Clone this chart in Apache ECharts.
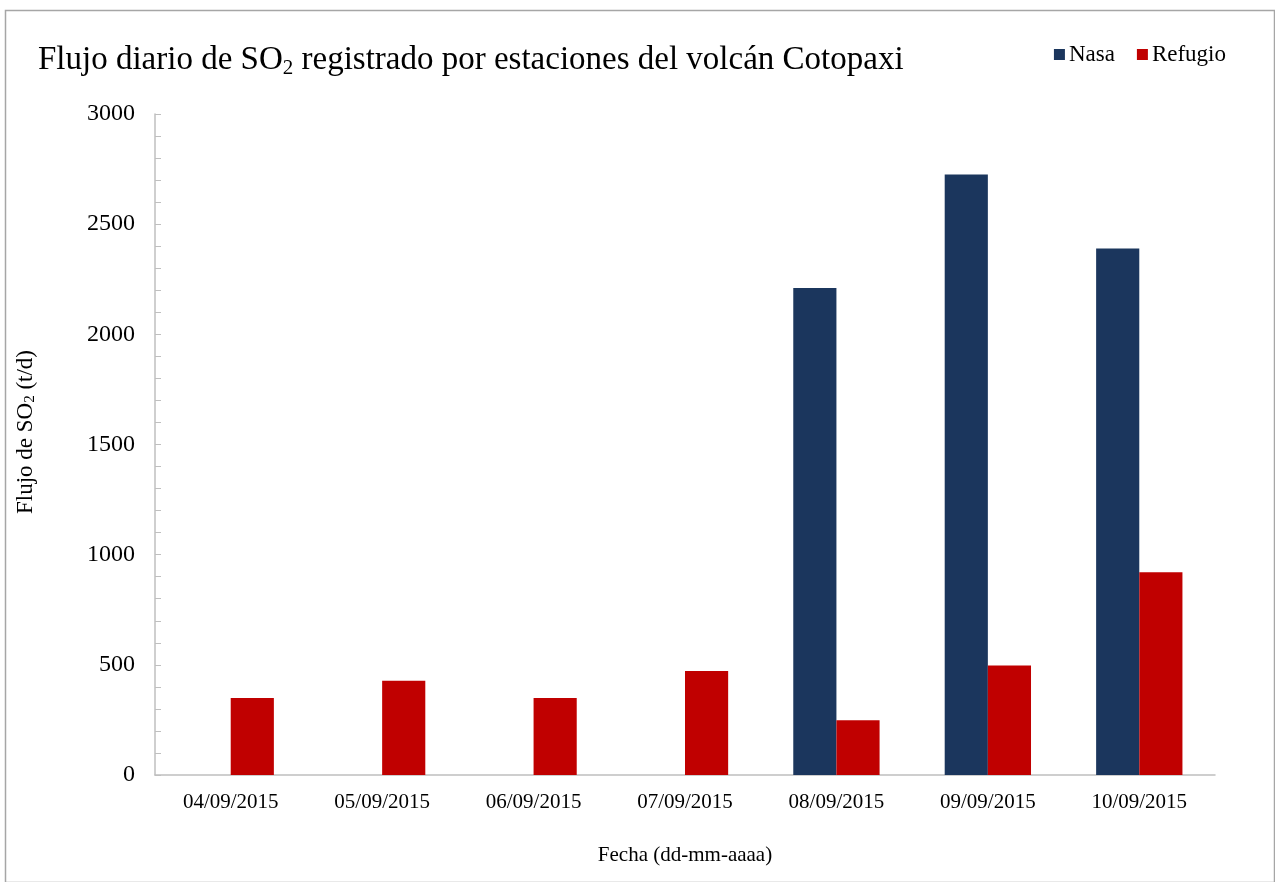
<!DOCTYPE html>
<html><head><meta charset="utf-8">
<script src="https://cdn.jsdelivr.net/npm/echarts@6/dist/echarts.min.js"></script>
<style>html,body{margin:0;padding:0;background:#fff}#c{width:1275px;height:882px}</style>
</head><body><div id="c"></div>
<script>
const categories = ['04/09/2015','05/09/2015','06/09/2015','07/09/2015','08/09/2015','09/09/2015','10/09/2015'];
const nasa = [null, null, null, null, 2210, 2725, 2390];
const refugio = [350, 428, 350, 472, 248, 497, 920];
const yTicks = {min: 0, max: 3000, interval: 500};

const serif = '"Liberation Serif", "DejaVu Serif", serif';
const chart = echarts.init(document.getElementById('c'));
chart.setOption({
  animation: false,
  backgroundColor: '#fff',
  textStyle: {fontFamily: serif},
  graphic: [{
    type: 'rect', left: 3, top: 8, shape: {width: 1269, height: 872},
    style: {fill: 'none', stroke: '#a6a6a6', lineWidth: 1.5}, silent: true
  }],
  title: {
    left: 33, top: 37,
    text: '{a|Flujo diario de SO}{s|2}{a| registrado por estaciones del volcán Cotopaxi}',
    textStyle: {
      rich: {
        a: {fontFamily: serif, fontSize: 33, fontWeight: 'normal', color: '#000'},
        s: {fontFamily: serif, fontSize: 21, fontWeight: 'normal', color: '#000', padding: [16, 0, 0, 0]}
      }
    }
  },
  legend: {
    right: 44, top: 38,
    itemWidth: 11, itemHeight: 11, itemGap: 22,
    icon: 'rect',
    textStyle: {fontFamily: serif, fontSize: 23, color: '#000', padding: [0,0,0,-1]},
    data: ['Nasa', 'Refugio']
  },
  grid: {left: 155, right: 60, top: 114, bottom: 107},
  xAxis: {
    type: 'category', data: categories,
    axisLine: {lineStyle: {color: '#bfbfbf', width: 1.5}},
    axisTick: {inside: true, length: 7, lineStyle: {color: '#bfbfbf'}},
    axisLabel: {fontFamily: serif, fontSize: 21, color: '#000', margin: 17},
    name: 'Fecha (dd-mm-aaaa)', nameLocation: 'middle', nameGap: 70,
    nameTextStyle: {fontFamily: serif, fontSize: 21, color: '#000'}
  },
  yAxis: {
    type: 'value', min: yTicks.min, max: yTicks.max, interval: yTicks.interval,
    splitLine: {show: false},
    axisLine: {show: true, lineStyle: {color: '#bfbfbf', width: 1.5}},
    axisTick: {show: true, inside: true, length: 6, lineStyle: {color: '#bfbfbf'}},
    minorTick: {show: true, splitNumber: 5, length: 6, lineStyle: {color: '#bfbfbf'}},
    axisLabel: {fontFamily: serif, fontSize: 24, color: '#000', margin: 20,
      formatter: v => String(v)},
    name: '{a|Flujo de SO}{s|2}{a| (t/d)}', nameLocation: 'middle', nameGap: 117, nameRotate: 90,
    nameTextStyle: {
      padding: [0, 0, 0, 25],
      rich: {
        a: {fontFamily: serif, fontSize: 23, color: '#000'},
        s: {fontFamily: serif, fontSize: 15, color: '#000', padding: [9, 0, 0, 0]}
      }
    }
  },
  series: [
    {name: 'Nasa', type: 'bar', data: nasa, barGap: '0%', barCategoryGap: '43%',
     itemStyle: {color: '#1b365d'}},
    {name: 'Refugio', type: 'bar', data: refugio, barGap: '0%', barCategoryGap: '43%',
     itemStyle: {color: '#c00000'}}
  ]
});
</script></body></html>
